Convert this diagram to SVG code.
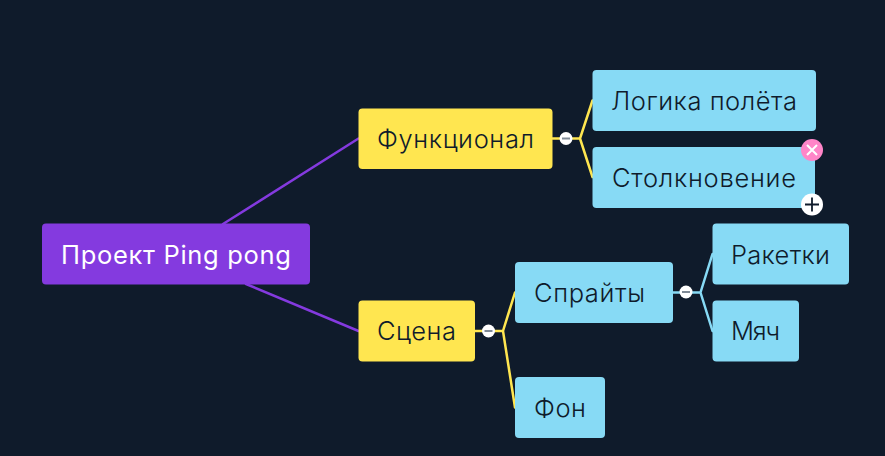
<svg xmlns="http://www.w3.org/2000/svg" width="885" height="456" viewBox="0 0 885 456">
<style>
.n{stroke-width:1}
.root{fill:#843adf}
.y{fill:#ffe650}
.b{fill:#87daf5}
text{font-family:"Inter","Noto Sans","Liberation Sans",sans-serif;font-size:25.5px;font-weight:300;fill:#0f1b2b;text-anchor:start}
.root-t{fill:#fff;font-weight:400}
.c{fill:none;stroke-linecap:round;stroke-linejoin:round}
.p{stroke:#843adf;stroke-width:2.5}
.yl{stroke:#ffe650;stroke-width:2.5}
.bl{stroke:#87daf5;stroke-width:2.5}
.tg{fill:#fff}
.mn{stroke:#7f8a96;stroke-width:2}
</style>
<rect width="885" height="456" fill="#0f1b2b"/>
<g id="connectors">
<path class="c p" d="M223 224L358.500 138.500M246 284L358.500 331"/>
<path class="c yl" d="M552.500 138.500H580L592.500 100.500M580 138.500L592.500 177"/>
<path class="c yl" d="M475 331H503L515 292.500M503 331L515 407.500"/>
<path class="c bl" d="M673 292.500H700.500L712.500 254M700.500 292.500L712.500 331"/>
<circle class="tg" cx="566" cy="138.500" r="6.500"/><path class="mn" d="M562 138.500H570"/>
<circle class="tg" cx="488.500" cy="331" r="6.500"/><path class="mn" d="M484.500 331H492.500"/>
<circle class="tg" cx="686" cy="292" r="6.500"/><path class="mn" d="M682 292H690"/>
</g>
<g id="root"><rect class="root" x="42" y="223.500" width="268" height="61" rx="4"/><text class="root-t" x="61" y="264" textLength="230" lengthAdjust="spacing">Проект Ping pong</text></g>
<g id="n-func"><rect class="y" x="358.500" y="108.500" width="194" height="60.500" rx="4"/><text x="377" y="148" textLength="157" lengthAdjust="spacing">Функционал</text></g>
<g id="n-scene"><rect class="y" x="358.500" y="300.500" width="116.500" height="61" rx="4"/><text x="377" y="340" textLength="79" lengthAdjust="spacing">Сцена</text></g>
<g id="n-logic"><rect class="b" x="592.500" y="70" width="223.500" height="61" rx="4"/><text x="611" y="110" textLength="186" lengthAdjust="spacing">Логика полёта</text></g>
<g id="n-coll"><rect class="b" x="592.500" y="147" width="222.500" height="61" rx="4"/><text x="612" y="187" textLength="184" lengthAdjust="spacing">Столкновение</text></g>
<g id="n-spr"><rect class="b" x="515" y="262" width="158" height="61" rx="4"/><text x="534" y="302" textLength="111" lengthAdjust="spacing">Спрайты</text></g>
<g id="n-bg"><rect class="b" x="515" y="377" width="90" height="61" rx="4"/><text x="534" y="417" textLength="52" lengthAdjust="spacing">Фон</text></g>
<g id="n-rack"><rect class="b" x="712.500" y="223.500" width="136.500" height="61" rx="4"/><text x="731" y="264" textLength="99" lengthAdjust="spacing">Ракетки</text></g>
<g id="n-ball"><rect class="b" x="712.500" y="300.500" width="86.500" height="61" rx="4"/><text x="731" y="340" textLength="49" lengthAdjust="spacing">Мяч</text></g>
<g id="btn-close"><circle cx="812" cy="150" r="11" fill="#ff85c8"/><path d="M807 145L817 155M817 145L807 155" stroke="#fff" stroke-width="2" fill="none"/></g>
<g id="btn-add"><circle cx="812" cy="204.500" r="11" fill="#fff"/><path d="M805 204.500H819M812 197.500V211.500" stroke="#0f1b2b" stroke-width="1.800" fill="none"/></g>
</svg>
